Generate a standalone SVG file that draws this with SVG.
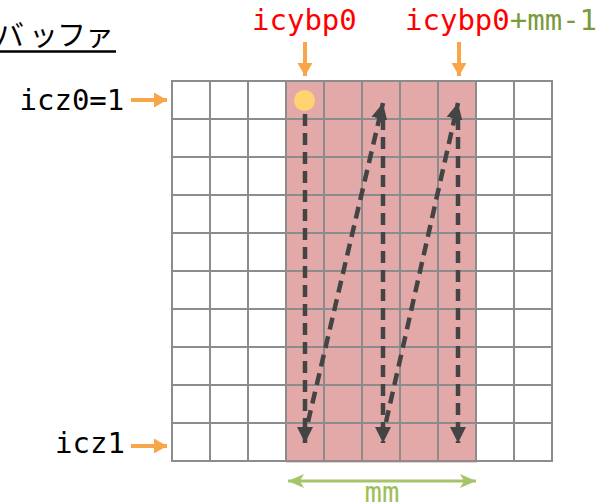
<svg xmlns="http://www.w3.org/2000/svg" width="606" height="504" viewBox="0 0 606 504">
<defs>
<style>
.mono{font-family:"DejaVu Sans Mono","Liberation Mono",monospace;font-size:29px}
.grid{stroke:#8c8c8c;stroke-width:2;fill:none}
.orange{stroke:#f9a54a;stroke-width:4;fill:none}
.dash{stroke:#444444;stroke-width:4.5;stroke-dasharray:12 7;fill:none}
.green{stroke:#a6c46a;stroke-width:3;fill:none}
</style>
<marker id="ah" markerUnits="userSpaceOnUse" markerWidth="18" markerHeight="18" refX="16" refY="8" orient="auto" viewBox="0 0 18 16">
<path d="M0,0 L16,8 L0,16 Z" fill="#444444"/>
</marker>
<marker id="oh" markerUnits="userSpaceOnUse" markerWidth="14" markerHeight="16" refX="13" refY="7.5" orient="auto" viewBox="0 0 14 15">
<path d="M0,0 L13,7.5 L0,15 Z" fill="#f9a54a"/>
</marker>
<marker id="gh" markerUnits="userSpaceOnUse" markerWidth="18" markerHeight="16" refX="16" refY="7" orient="auto-start-reverse" viewBox="0 0 18 14">
<path d="M0,0 L16,7 L0,14 L4,7 Z" fill="#a6c46a"/>
</marker>
</defs>
<rect width="606" height="504" fill="#ffffff"/>

<g id="title">
<text x="-5 29 57 85" y="46" font-family="'Noto Sans CJK JP',sans-serif" font-size="29" fill="#000000">バッファ</text>
<line x1="0" y1="51.5" x2="116" y2="51.5" stroke="#000000" stroke-width="2.5"/>
</g>

<g id="highlight">
<rect x="286.5" y="81" width="190" height="381" fill="#e2a9a8" stroke="#d89a99" stroke-width="1"/>
</g>

<g id="grid" class="grid">
<rect x="172" y="81" width="380" height="380"/>
<path d="M210,81V461M248,81V461M286,81V461M324,81V461M362,81V461M400,81V461M438,81V461M476,81V461M514,81V461"/>
<path d="M172,119H552M172,157H552M172,195H552M172,233H552M172,271H552M172,309H552M172,347H552M172,385H552M172,423H552"/>
</g>

<g id="start-dot">
<circle cx="304.5" cy="100.5" r="10.5" fill="#ffd272"/>
</g>

<g id="connectors">
<line class="dash" x1="305" y1="114" x2="305" y2="443" marker-end="url(#ah)"/>
<line class="dash" x1="308" y1="422" x2="383" y2="103" marker-end="url(#ah)"/>
<line class="dash" x1="383" y1="118" x2="383" y2="443" marker-end="url(#ah)"/>
<line class="dash" x1="386" y1="422" x2="458" y2="103" marker-end="url(#ah)"/>
<line class="dash" x1="458" y1="118" x2="458" y2="443" marker-end="url(#ah)"/>
<line class="orange" x1="131" y1="100" x2="167" y2="100" marker-end="url(#oh)"/>
<line class="orange" x1="131" y1="446" x2="167" y2="446" marker-end="url(#oh)"/>
<line class="orange" x1="305" y1="42" x2="305" y2="76" marker-end="url(#oh)"/>
<line class="orange" x1="459" y1="42" x2="459" y2="76" marker-end="url(#oh)"/>
<line class="green" x1="288" y1="481" x2="476" y2="481" marker-start="url(#gh)" marker-end="url(#gh)"/>
</g>

<g id="labels" class="mono">
<text x="19.5" y="110" fill="#000000">icz0=1</text>
<text x="55" y="453" fill="#000000">icz1</text>
<text x="252" y="30" fill="#ff0000">icybp0</text>
<text x="405" y="30"><tspan fill="#ff0000">icybp0</tspan><tspan fill="#7a9a3c">+mm-1</tspan></text>
<text x="382" y="502" text-anchor="middle" fill="#9dbf5a">mm</text>
</g>
</svg>
